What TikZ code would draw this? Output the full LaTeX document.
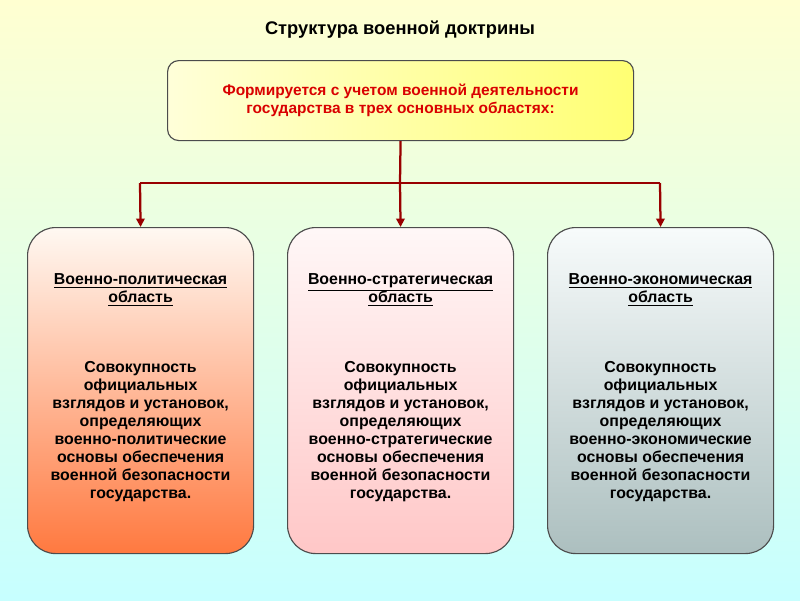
\documentclass[tikz,border=0pt]{standalone}
\usepackage{fontspec}
\setmainfont{Liberation Sans}
\usetikzlibrary{arrows.meta}
\begin{document}
\begin{tikzpicture}[x=0.025cm,y=-0.025cm,
  col/.style={draw=black!70,line width=0.8pt,rounded corners=20pt,minimum width=226*0.025cm,minimum height=326*0.025cm,anchor=north west},
  txt/.style={align=center,font=\bfseries\fontsize{11.3}{12.8}\selectfont},
  conn/.style={draw=red!60!black,line width=1.6pt},
  arr/.style={conn,-{Triangle[length=6pt,width=6pt]}}]
\shade[shading angle=30,top color=yellow!18,bottom color=cyan!22] (0,0) rectangle (800,600);
\node[font=\bfseries\fontsize{13}{15}\selectfont] (title) at (400,30) {Структура военной доктрины};
\node[draw=black!70,line width=0.8pt,rounded corners=8pt,minimum width=466*0.025cm,minimum height=80*0.025cm,anchor=north west,left color=yellow!15,right color=yellow!55,
  align=center,text=red!85!black,font=\bfseries\fontsize{11}{13}\selectfont] (top) at (167,60) {Формируется с учетом военной деятельности\\государства в трех основных областях:};
\node[col,top color=orange!5,bottom color=orange!60!red!75] (a) at (27,227) {};
\node[col,top color=red!3,bottom color=red!22] (b) at (287,227) {};
\node[col,top color=teal!3,bottom color=teal!30!gray!50] (c) at (547,227) {};
\coordinate (j) at (400,183);
\coordinate (jl) at (140,183);
\coordinate (jr) at (660,183);
\draw[conn] (top.south) -- (j);
\draw[conn] (jl) -- (jr);
\draw[arr] (jl) -- (a.north);
\draw[arr] (j) -- (b.north);
\draw[arr] (jr) -- (c.north);
\foreach \n/\h/\w in {a/Военно-политическая/военно-политические,b/Военно-стратегическая/военно-стратегические,c/Военно-экономическая/военно-экономические}{
  \node[txt] at ([yshift=-63*0.025cm]\n.north) {\underline{\h}\\\underline{область}};
  \node[txt] at ([yshift=-205*0.025cm]\n.north) {Совокупность\\официальных\\взглядов и установок,\\определяющих\\\w\\основы обеспечения\\военной безопасности\\государства.};
}
\end{tikzpicture}
\end{document}
